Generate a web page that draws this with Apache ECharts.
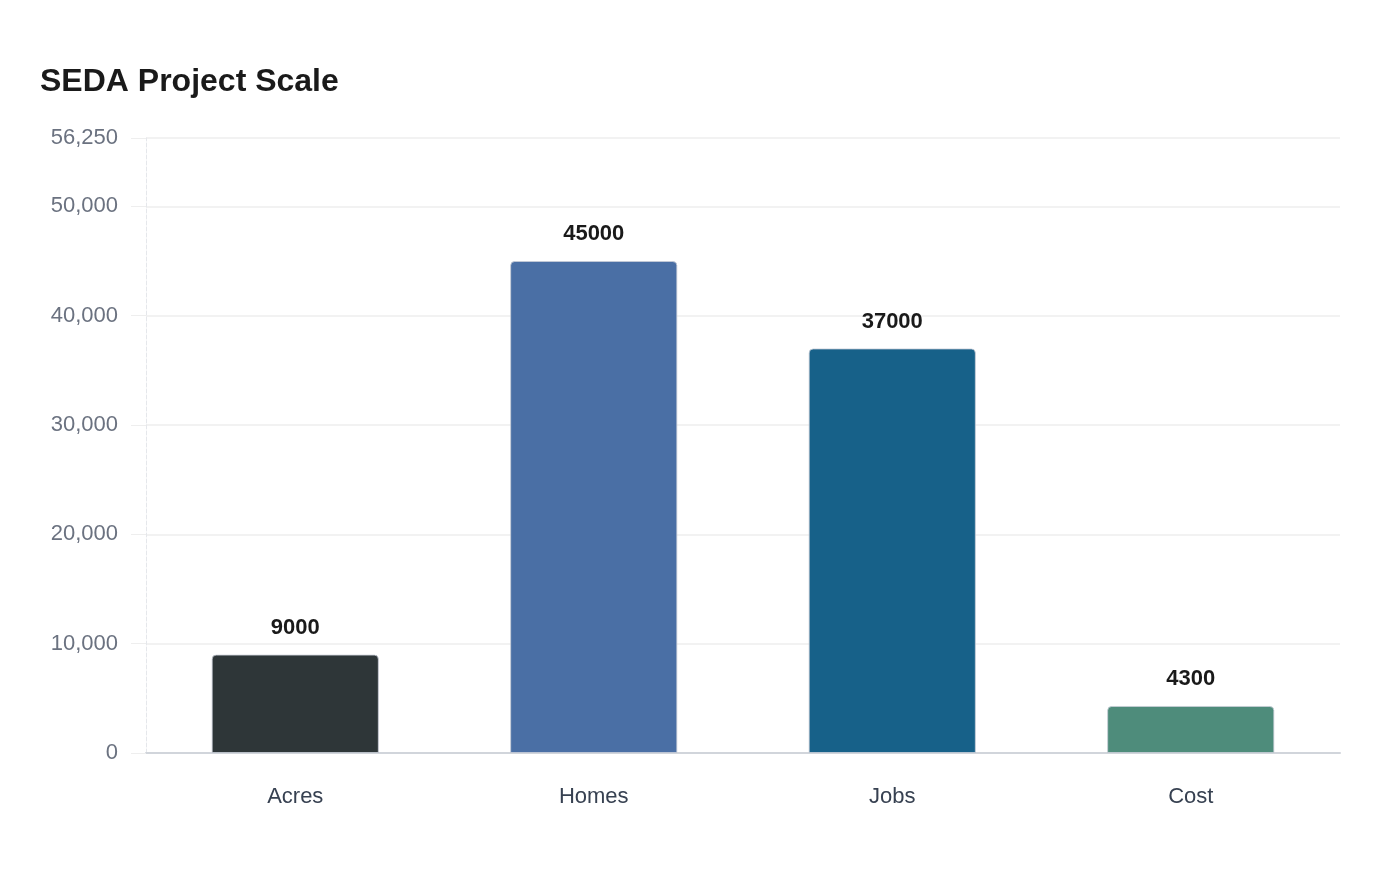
<!DOCTYPE html>
<html>
<head>
<meta charset="utf-8">
<script src="https://cdn.jsdelivr.net/npm/echarts@6/dist/echarts.min.js"></script>
<style>
  html, body { margin: 0; padding: 0; background: #fff; }
  #chart { width: 1400px; height: 880px; }
</style>
</head>
<body>
<div id="chart"></div>
<script>
// data
const categories = ['Acres', 'Homes', 'Jobs', 'Cost'];
const values = [9000, 45000, 37000, 4300];
const barColors = ['#2e3638', '#4a6fa5', '#176189', '#4e8c7b'];

const FONT = '"Liberation Sans", Arial, Helvetica, sans-serif';

const chart = echarts.init(document.getElementById('chart'));

chart.setOption({
  backgroundColor: '#ffffff',
  animation: false,
  textStyle: { fontFamily: FONT },
  title: {
    text: 'SEDA Project Scale',
    left: 40,
    top: 66,
    padding: 0,
    textStyle: { fontFamily: FONT, fontSize: 32, fontWeight: 'bold', color: '#1a1a1a' }
  },
  grid: { left: 146, right: 60, top: 138, bottom: 127 },
  xAxis: {
    type: 'category',
    data: categories,
    axisLine: { lineStyle: { color: '#d1d5db', width: 2 } },
    axisTick: { show: false },
    axisLabel: { color: '#374151', fontSize: 22, fontFamily: FONT, margin: 33 }
  },
  yAxis: {
    type: 'value',
    min: 0,
    max: 56250,
    interval: 10000,
    axisLine: { show: true, lineStyle: { color: '#e5e7eb', type: 'dashed', width: 1 } },
    axisTick: { show: true, length: 15, lineStyle: { color: '#eeeeee' } },
    axisLabel: { color: '#6b7280', fontSize: 22, fontFamily: FONT, margin: 28, showMaxLabel: true, padding: [4, 0, 0, 0] },
    splitLine: { lineStyle: { color: '#eeeeee', width: 1.5 } }
  },
  series: [{
    type: 'bar',
    barWidth: '56%',
    data: values.map((v, i) => ({
      value: v,
      itemStyle: { color: barColors[i] }
    })),
    itemStyle: { borderRadius: [4, 4, 0, 0], borderColor: 'rgba(200,205,215,0.8)', borderWidth: 1 },
    label: {
      show: true,
      position: 'top',
      distance: 16,
      color: '#1a1a1a',
      fontSize: 22,
      fontWeight: 'bold',
      fontFamily: FONT
    }
  }]
});
</script>
</body>
</html>
